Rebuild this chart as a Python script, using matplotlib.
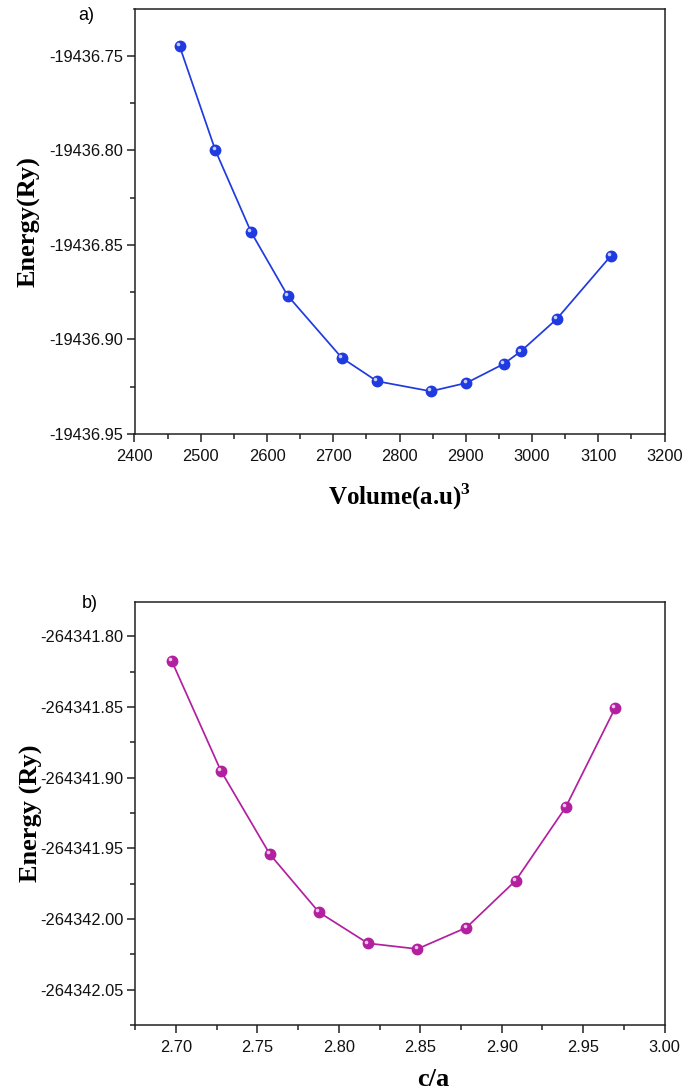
import matplotlib
matplotlib.use("Agg")
import matplotlib.pyplot as plt
from matplotlib.ticker import MultipleLocator, AutoMinorLocator, FormatStrFormatter
from matplotlib.transforms import offset_copy

plt.rcParams["font.family"] = ["Liberation Sans", "DejaVu Sans"]
plt.rcParams["mathtext.fontset"] = "custom"
plt.rcParams["mathtext.rm"] = "Liberation Serif:bold"
plt.rcParams["mathtext.bf"] = "Liberation Serif:bold"

# volume optimisation
volume = [2468, 2522, 2576, 2631, 2713, 2766, 2847, 2901, 2957, 2983, 3037, 3119]
energy_v = [-19436.7449, -19436.8000, -19436.8433, -19436.8768, -19436.9098,
            -19436.9221, -19436.9274, -19436.9230, -19436.9130, -19436.9063,
            -19436.8893, -19436.8558]

# c/a optimisation
ca = [2.6975, 2.7276, 2.7577, 2.7878, 2.8179, 2.8482, 2.8783, 2.9086, 2.9393, 2.9696]
energy_ca = [-264341.8175, -264341.8951, -264341.9542, -264341.9952, -264342.0172,
             -264342.0212, -264342.0061, -264341.9728, -264341.9209, -264341.8508]

blue = "#1f3ae0"
magenta = "#b3209f"

W, H = 691, 1091
fig = plt.figure(figsize=(W / 100, H / 100), dpi=100)


def rect(left, top, right, bottom):
    return [left / W, 1 - bottom / H, (right - left) / W, (bottom - top) / H]


def curve(ax, x, y, color):
    ax.plot(x, y, "-", color=color, lw=1.25, marker="o", ms=7.5,
            mfc=color, mec=color, zorder=3)
    shine = offset_copy(ax.transData, fig=fig, x=-1.3, y=1.3, units="points")
    ax.plot(x, y, "o", ms=2.6, mfc="white", mec="none", alpha=0.75,
            transform=shine, zorder=4)


def style(ax):
    for s in ax.spines.values():
        s.set_linewidth(1.1)
        s.set_color("#222222")
    ax.tick_params(which="both", direction="out", top=False, right=False,
                   width=1.1, color="#222222", labelsize=11.8, labelcolor="#111111")
    ax.tick_params(which="major", length=6)
    ax.tick_params(which="minor", length=3.5)
    ax.tick_params(axis="x", pad=5)
    ax.tick_params(axis="y", pad=2)
    ax.xaxis.set_minor_locator(AutoMinorLocator(2))
    ax.yaxis.set_minor_locator(AutoMinorLocator(2))


label_font = dict(family="Liberation Serif", weight="bold")

# a) energy vs volume
ax1 = fig.add_axes(rect(134.5, 9.3, 664.6, 434))
curve(ax1, volume, energy_v, blue)
ax1.set_xlim(2400, 3200)
ax1.set_ylim(-19436.95, -19436.7255)
ax1.xaxis.set_major_locator(MultipleLocator(100))
ax1.yaxis.set_major_locator(MultipleLocator(0.05))
ax1.yaxis.set_major_formatter(FormatStrFormatter("%.2f"))
style(ax1)
ax1.set_xlabel("Volume(a.u)$^{3}$", fontsize=18, **label_font)
ax1.set_ylabel("Energy(Ry)", fontsize=19, **label_font)
ax1.xaxis.label.set_va("center")
ax1.yaxis.label.set_va("center")
ax1.xaxis.set_label_coords(0.5, -0.148)
ax1.yaxis.set_label_coords(-0.199, 0.5)
fig.text(78 / W, 1 - 15.5 / H, "a)", fontsize=13, va="center", ha="left")

# b) energy vs c/a
ax2 = fig.add_axes(rect(134.5, 602, 664.6, 1025))
curve(ax2, ca, energy_ca, magenta)
ax2.set_xlim(2.6746, 3.00)
ax2.set_ylim(-264342.075, -264341.7757)
ax2.xaxis.set_major_locator(MultipleLocator(0.05))
ax2.yaxis.set_major_locator(MultipleLocator(0.05))
ax2.xaxis.set_major_formatter(FormatStrFormatter("%.2f"))
ax2.yaxis.set_major_formatter(FormatStrFormatter("%.2f"))
style(ax2)
ax2.set_xlabel("c/a", fontsize=19, **label_font)
ax2.set_ylabel("Energy (Ry)", fontsize=19, **label_font)
ax2.xaxis.label.set_va("center")
ax2.yaxis.label.set_va("center")
ax2.xaxis.set_label_coords(0.563, -0.128)
ax2.yaxis.set_label_coords(-0.195, 0.5)
fig.text(82 / W, 1 - 603 / H, "b)", fontsize=13, va="center", ha="left")

fig.savefig("out.png", dpi=100)
